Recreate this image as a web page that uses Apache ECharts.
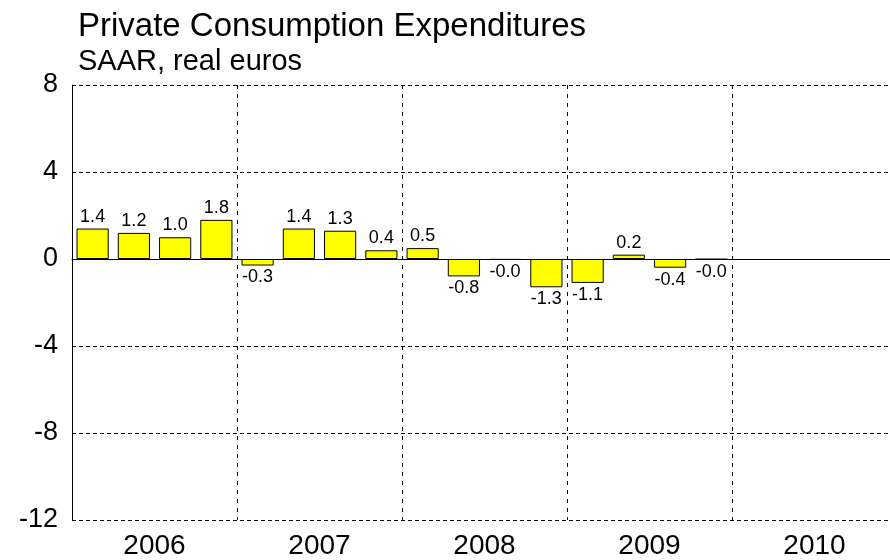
<!DOCTYPE html>
<html>
<head>
<meta charset="utf-8">
<script src="https://cdn.jsdelivr.net/npm/echarts@6/dist/echarts.min.js"></script>
<style>html,body{margin:0;padding:0;background:#fff;overflow:hidden;width:890px;height:560px}#c{width:897px;height:560px}</style>
</head>
<body>
<div id="c"></div>
<script>
var years = ['2006', '2007', '2008', '2009', '2010'];
var quarters = ['2006Q1','2006Q2','2006Q3','2006Q4','2007Q1','2007Q2','2007Q3','2007Q4',
                '2008Q1','2008Q2','2008Q3','2008Q4','2009Q1','2009Q2','2009Q3','2009Q4',
                '2010Q1','2010Q2','2010Q3','2010Q4'];
var values = [1.4, 1.2, 1.0, 1.8, -0.3, 1.4, 1.3, 0.4, 0.5, -0.8, -0.04, -1.3, -1.1, 0.2, -0.4, -0.02,
              null, null, null, null];
var yTicks = [-12, -8, -4, 0, 4, 8];

var FONT = 'Liberation Sans, Arial, sans-serif';
var chart = echarts.init(document.getElementById('c'), null, {renderer: 'canvas'});

var barData = values.map(function (v) {
  if (v === null) return null;
  return {
    value: v,
    label: {position: v < 0 ? 'bottom' : 'top'}
  };
});

chart.setOption({
  animation: false,
  backgroundColor: '#fff',
  title: [
    {text: 'Private Consumption Expenditures', left: 73, top: 5,
     textStyle: {fontFamily: FONT, fontSize: 33, fontWeight: 'normal', color: '#000'}},
    {text: 'SAAR, real euros', left: 73, top: 42,
     textStyle: {fontFamily: FONT, fontSize: 29, fontWeight: 'normal', color: '#000'}}
  ],
  grid: {left: 72, top: 85, right: 0, bottom: 37, containLabel: false},
  xAxis: [
    {
      type: 'category', data: quarters, boundaryGap: true,
      axisLine: {onZero: true, lineStyle: {color: '#000', width: 1}},
      axisTick: {show: false}, axisLabel: {show: false}, splitLine: {show: false}
    },
    {
      type: 'category', data: years, boundaryGap: true, position: 'bottom',
      axisLine: {show: false}, axisTick: {show: false},
      axisLabel: {fontFamily: FONT, fontSize: 28, color: '#000', margin: 12},
      splitLine: {show: true, lineStyle: {color: '#000', type: [4, 5], width: 1}}
    }
  ],
  yAxis: {
    type: 'value', min: yTicks[0], max: yTicks[yTicks.length - 1], interval: 4,
    axisLine: {show: true, lineStyle: {color: '#000', width: 1}},
    axisTick: {show: false},
    axisLabel: {fontFamily: FONT, fontSize: 27, color: '#000', margin: 14},
    splitLine: {show: true, lineStyle: {color: '#000', type: [4, 3], width: 1}}
  },
  series: [{
    type: 'bar', xAxisIndex: 0, data: barData, barWidth: '78%',
    itemStyle: {color: '#ffff00', borderColor: '#000', borderWidth: 1},
    label: {show: true, fontFamily: FONT, fontSize: 18, color: '#000', distance: 3,
            formatter: function (p) { return p.value.toFixed(1); }}
  }]
});
</script>
</body>
</html>
